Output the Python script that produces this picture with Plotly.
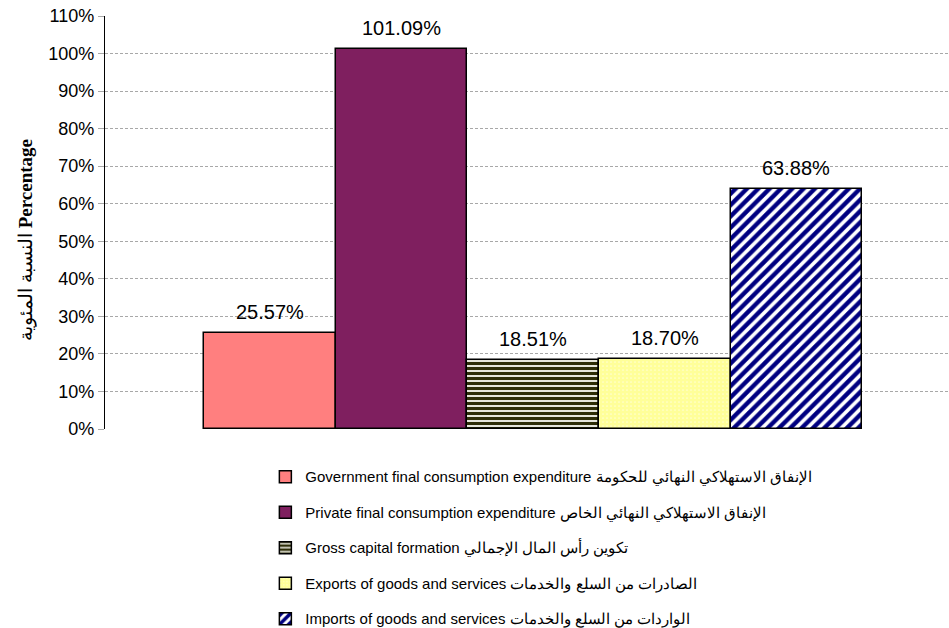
import plotly.graph_objects as go

series_names = [
    "Government final consumption expenditure الإنفاق الاستهلاكي النهائي للحكومة",
    "Private final consumption expenditure الإنفاق الاستهلاكي النهائي الخاص",
    "Gross capital formation تكوين رأس المال الإجمالي",
    "Exports of goods and services الصادرات من السلع والخدمات",
    "Imports of goods and services الواردات من السلع والخدمات",
]
values = [0.2557, 1.0109, 0.1851, 0.1870, 0.6388]
y_ticks = [i / 10 for i in range(12)]

styles = [
    dict(color="#FF7F7F"),
    dict(color="#7F1F5F"),
    dict(color="#E6E6DC", pattern=dict(shape="-", fgcolor="#2E2E08", bgcolor="#E6E6DC",
                                       fgopacity=1, size=5, solidity=0.6)),
    dict(color="#FFFF99", pattern=dict(shape=".", fgcolor="#FFFFD0", bgcolor="#FFFF99",
                                       fgopacity=1, size=4, solidity=0.15)),
    dict(color="#FFFFFF", pattern=dict(shape="/", fgcolor="#000080", bgcolor="#FFFFFF",
                                       fgopacity=1, size=8, solidity=0.55)),
]

fig = go.Figure()
for name, v, st in zip(series_names, values, styles):
    marker = dict(color=st["color"], line=dict(color="#000000", width=1.5))
    if "pattern" in st:
        marker["pattern"] = st["pattern"]
    fig.add_trace(go.Bar(
        x=[name], y=[v], name=name, marker=marker,
        legendgroup=name, hoverinfo="y",
    ))
    fig.add_annotation(
        x=name, y=v, xref="x", yref="y", text=f"{v*100:.2f}%",
        showarrow=False, yanchor="bottom", yshift=8,
        font=dict(family="Liberation Sans, Arial", size=20, color="#000000"),
    )

fig.add_annotation(
    text="النسبة المئوية <b>Percentage</b>",
    xref="paper", yref="paper", x=-0.0936, y=0.458,
    textangle=-90, showarrow=False, xanchor="center", yanchor="middle",
    font=dict(family="Liberation Serif, Times New Roman", size=19, color="#000000"),
)

fig.update_layout(
    width=949, height=628,
    margin=dict(l=105, r=0, t=16, b=199, autoexpand=False),
    paper_bgcolor="white", plot_bgcolor="white",
    barmode="overlay", bargap=0, bargroupgap=0,
    showlegend=True,
    legend=dict(
        x=0.19, y=-0.076, xanchor="left", yanchor="top",
        orientation="v", traceorder="grouped", tracegroupgap=13,
        font=dict(family="Liberation Sans, Arial", size=15, color="#000000"),
        itemwidth=30,
    ),
    xaxis=dict(range=[-1.254, 5.16], showticklabels=False, showgrid=False,
               zeroline=False, showline=False, ticks="",
               categoryorder="array", categoryarray=series_names),
    yaxis=dict(
        range=[0, 1.10], tickvals=y_ticks, tickformat=".0%",
        showgrid=True, gridcolor="#A8A8A8", griddash="3px,2px", gridwidth=1,
        showline=True, linecolor="#000000", linewidth=1.2,
        ticks="outside", ticklen=6, tickcolor="#A8A8A8",
        tickfont=dict(family="Liberation Sans, Arial", size=18, color="#000000"),
        zeroline=False,
    ),
)

fig.write_html(
    "out.html",
    config={"displayModeBar": False},
    post_script="document.body.style.margin='0px';document.body.style.overflow='hidden';",
)
